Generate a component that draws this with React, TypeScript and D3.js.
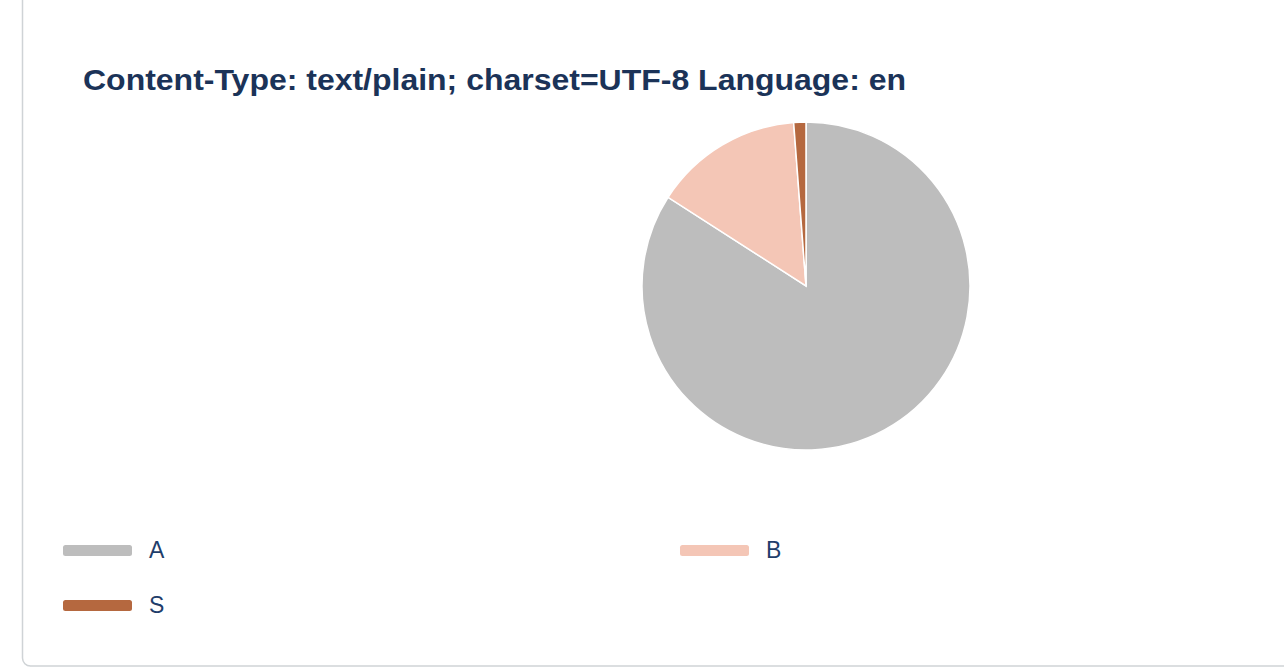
import React, { useEffect, useRef } from "react";
import * as d3 from "d3";

const categories = ["A", "B", "S"];
const values = [84.1, 14.7, 1.2];
const colors = ["#bdbdbd", "#f4c6b6", "#b5683f"];
const title = "Content-Type: text/plain; charset=UTF-8 Language: en";

const App: React.FC = () => {
  const svgRef = useRef<SVGSVGElement>(null);

  useEffect(() => {
    if (!svgRef.current) return;
    const W = 1284, H = 668;
    const svg = d3.select(svgRef.current).attr("width", W).attr("height", H);
    svg.selectAll("*").remove();

    // card border (top and right edges are off-screen)
    svg.append("rect")
      .attr("x", 22.5).attr("y", -30)
      .attr("width", 1320).attr("height", 696)
      .attr("rx", 8)
      .attr("fill", "#fff")
      .attr("stroke", "#cfd3d6")
      .attr("stroke-width", 1.5);

    svg.append("text")
      .attr("x", 83).attr("y", 90)
      .attr("fill", "#1b3358")
      .attr("font-family", "Liberation Sans, Arial, sans-serif")
      .attr("font-weight", "bold")
      .attr("font-size", 30)
      .attr("textLength", 823)
      .attr("lengthAdjust", "spacingAndGlyphs")
      .text(title);

    const cx = 806, cy = 286, r = 164;
    const pie = d3.pie<number>().sort(null).value(d => d);
    const arc = d3.arc<d3.PieArcDatum<number>>().innerRadius(0).outerRadius(r);

    svg.append("g")
      .attr("transform", `translate(${cx},${cy})`)
      .selectAll("path")
      .data(pie(values))
      .join("path")
      .attr("d", arc)
      .attr("fill", (_, i) => colors[i])
      .attr("stroke", "#fff")
      .attr("stroke-width", 1.5);

    // legend: two columns
    const colX = [63, 680];
    const rowY = [550, 605];
    const legend = svg.append("g")
      .selectAll("g")
      .data(categories)
      .join("g")
      .attr("transform", (_, i) => `translate(${colX[i % 2]},${rowY[Math.floor(i / 2)]})`);

    legend.append("rect")
      .attr("x", 0).attr("y", -5)
      .attr("width", 69).attr("height", 11)
      .attr("rx", 2.5)
      .attr("fill", (_, i) => colors[i]);

    legend.append("text")
      .attr("x", 86).attr("y", 8)
      .attr("fill", "#1f3e6b")
      .attr("font-family", "Liberation Sans, Arial, sans-serif")
      .attr("font-size", 23)
      .text(d => d);
  }, []);

  return (
    <div style={{ position: "absolute", left: 0, top: 0 }}>
      <svg ref={svgRef} style={{ display: "block" }} />
    </div>
  );
};

export default App;
